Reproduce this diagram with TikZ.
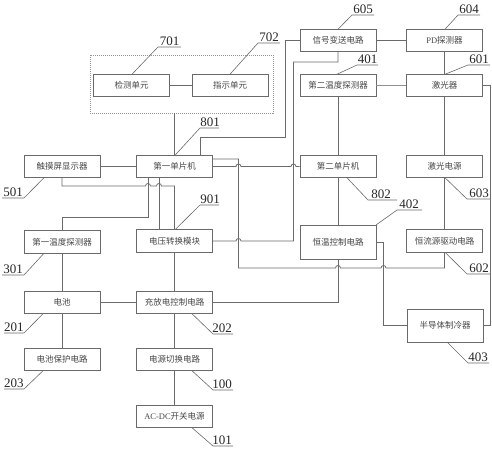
\documentclass[tikz,border=0pt]{standalone}
\usepackage{fontspec}
\setmainfont{Liberation Serif}
\newfontfamily\cjk{Noto Sans CJK SC}
\usetikzlibrary{calc}
\definecolor{ln}{HTML}{6A6A6A}
\definecolor{tx}{HTML}{454545}
\begin{document}
\begin{tikzpicture}[x=1pt,y=-1pt,
  box/.style={draw=ln,line width=0.8pt,minimum width=76pt,minimum height=22.5pt,inner sep=0pt,font=\cjk\fontsize{8.5}{10}\selectfont,text=tx},
  wire/.style={draw=ln,line width=0.8pt},
  lead/.style={draw=ln,line width=0.6pt},
  num/.style={font=\fontsize{13}{14}\selectfont,text=black!85,inner sep=0pt,anchor=south}
]
\useasboundingbox (0,0) rectangle (492,450);

% group box
\node[draw=ln!70,line width=0.7pt,dash pattern=on 1pt off 1pt,minimum width=183pt,minimum height=58pt,inner sep=0pt] (grp) at (181.5,84) {};

% boxes
\node[box] (jc) at (131.5,85.5) {检测单元};
\node[box] (zs) at (230,85.5) {指示单元};
\node[box] (xh) at (338,40.5) {信号变送电路};
\node[box] (pd) at (444.5,40.5) {{\rmfamily PD}探测器};
\node[box] (wd2) at (338,85.5) {第二温度探测器};
\node[box] (jg) at (444.5,85.5) {激光器};
\node[box] (tp) at (62,166.5) {触摸屏显示器};
\node[box] (mcu1) at (174.5,166.5) {第一单片机};
\node[box] (mcu2) at (338,166.5) {第二单片机};
\node[box] (jgdy) at (444.5,166.5) {激光电源};
\node[box] (wd1) at (62,242) {第一温度探测器};
\node[box] (dy) at (174.5,241) {电压转换模块};
\node[box,minimum height=34pt] (hw) at (338,242) {恒温控制电路};
\node[box] (hl) at (444.5,241) {恒流源驱动电路};
\node[box] (dc) at (62,302.5) {电池};
\node[box] (cf) at (174.5,302.5) {充放电控制电路};
\node[box,minimum height=33pt] (bdt) at (445,325.5) {半导体制冷器};
\node[box] (bh) at (62,359.5) {电池保护电路};
\node[box] (qh) at (174.5,359.5) {电源切换电路};
\node[box] (ac) at (174.5,416.5) {{\rmfamily AC-DC}开关电源};

% connectors
\draw[wire] (jc) -- (zs);
\draw[wire] (grp.south -| mcu1.north) -- (mcu1.north);
\draw[wire] (xh.west) -| (285,137) -| ([xshift=25.5pt]mcu1.north);
\draw[wire] (xh) -- (pd);
\draw[wire] (pd) -- (jg);
\draw[wire,draw=ln!75] (wd2) -- (jg);
\draw[wire] (wd2) -- (mcu2);
\draw[wire] (mcu2) -- (hw);
\draw[wire] (jg) -- (jgdy);
\draw[wire] (jgdy) -- (hl);
\draw[wire] (jg.east) -- ++(7.5,0) |- (bdt.east);
\draw[wire] (hw.east) -- (383.5,242) |- (bdt.west);
\draw[wire] (tp) -- (mcu1);
\draw[wire] ([yshift=7.5pt]mcu1.east) -- (238.5,159) -- (238.5,268) -- (335.5,268)
  arc[start angle=180,end angle=0,radius=2.5pt] -- (381,268)
  arc[start angle=180,end angle=0,radius=2.5pt] -- (444.5,268) -- (hl.south);
\draw[wire] (mcu1.east) -- (236,166.5)
  arc[start angle=180,end angle=0,radius=2.5pt] -- (291,166.5)
  arc[start angle=180,end angle=0,radius=2.5pt] -- (mcu2.west);
\draw[wire] (dy.east) -- (236,241)
  arc[start angle=180,end angle=0,radius=2.5pt] -- (293.5,241) |- (338,62) -- (xh.south);
\draw[wire] (hw.south) |- (cf.east);
\draw[wire] (dc) -- (cf);
\draw[wire] (wd1) -- (dc);
\draw[wire] (dc) -- (bh);
\draw[wire] (dy) -- (cf);
\draw[wire] (cf) -- (qh);
\draw[wire] (qh) -- (ac);
\draw[wire] ([xshift=-26.5pt]mcu1.south) -- (148,217) -| (wd1.north);
\draw[wire] ([xshift=-15.5pt]mcu1.south) -- ([xshift=-15.5pt]dy.north);
\draw[wire] (tp.south) -- (62,186) -- (145.5,186)
  arc[start angle=180,end angle=0,radius=2.5pt] -- (156.5,186)
  arc[start angle=180,end angle=0,radius=2.5pt] -- (174.5,186) -- (dy.north);

% reference numbers
\node[num] (n701) at (169.5,45.5) {701};
\draw[lead] (132,74.25) -- (158,47) -- (181,47);
\node[num] (n702) at (269,41.5) {702};
\draw[lead] (230,74.25) -- (258,43) -- (280,43);
\node[num] (n605) at (363,13.5) {605};
\draw[lead] (338,29.25) -- (352,15) -- (374,15);
\node[num] (n604) at (469,13.5) {604};
\draw[lead] (445,29.25) -- (458,15) -- (480,15);
\node[num] (n401) at (367.5,63.5) {401};
\draw[lead] (337,74.25) -- (357,65) -- (378,65);
\node[num] (n601) at (479,63.5) {601};
\draw[lead] (445,74.25) -- (468,65) -- (490,65);
\node[num] (n801) at (210,126.5) {801};
\draw[lead] (175,155.25) -- (200,128) -- (219,128);
\node[num] (n501) at (13,196.5) {501};
\draw[lead] (44,177.75) -- (24,198) -- (2,198);
\node[num] (n901) at (210,203.5) {901};
\draw[lead] (175,229.75) -- (200,205) -- (219,205);
\node[num] (n802) at (381,198.5) {802};
\draw[lead] (347,177.75) -- (368,200) -- (397,200);
\node[num] (n402) at (409,208.5) {402};
\draw[lead] (376,225) -- (397,210) -- (422,210);
\node[num] (n603) at (479,197.5) {603};
\draw[lead] (445,177.75) -- (467,199) -- (490,199);
\node[num] (n602) at (479,272.5) {602};
\draw[lead] (445,252.25) -- (467,274) -- (490,274);
\node[num] (n301) at (13,273.5) {301};
\draw[lead] (44,253.25) -- (24,275) -- (2,275);
\node[num] (n201) at (14,331.5) {201};
\draw[lead] (43,313.75) -- (24,333) -- (4,333);
\node[num] (n203) at (14,387.5) {203};
\draw[lead] (43,370.75) -- (24,389) -- (4,389);
\node[num] (n202) at (222,332.5) {202};
\draw[lead] (192,313.75) -- (213,334) -- (233,334);
\node[num] (n100) at (222,388.5) {100};
\draw[lead] (192,370.75) -- (213,390) -- (233,390);
\node[num] (n101) at (222,444.5) {101};
\draw[lead] (192,427.75) -- (213,446) -- (233,446);
\node[num] (n403) at (478,361.5) {403};
\draw[lead] (447,342) -- (468,363) -- (489,363);
\end{tikzpicture}
\end{document}
